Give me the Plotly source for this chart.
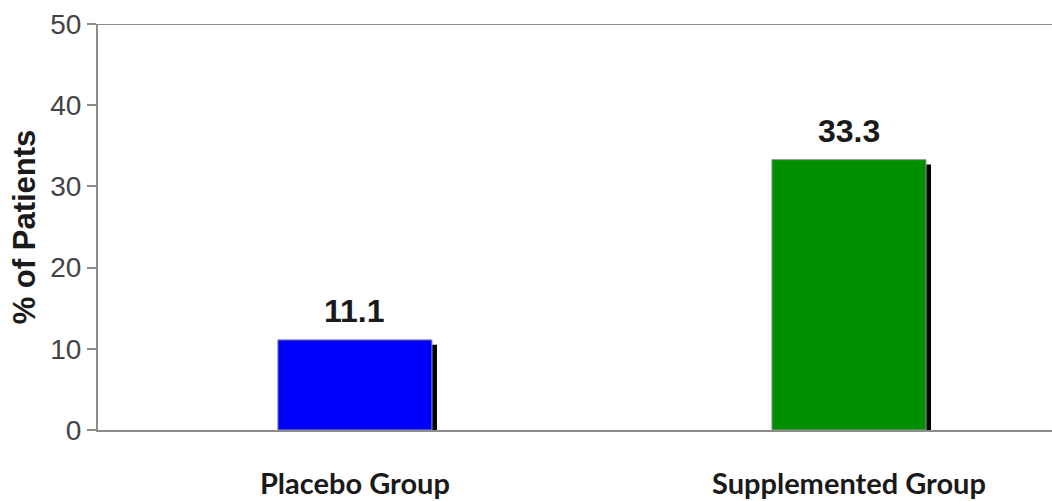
import plotly.graph_objects as go

categories = ["Placebo Group", "Supplemented Group"]
values = [11.1, 33.3]
bar_colors = ["#0000ff", "#008f00"]
y_ticks = [0, 10, 20, 30, 40, 50]

# layout geometry (pixels)
W, H = 1052, 501
ML, MR, MT, MB = 98, 0, 24, 71
x_range = [-0.52, 1.411]
y_range = [0, 50]
bar_w = 0.312
shadow_dx_px, shadow_dy_px = 5, 5

plot_w = W - ML - MR
plot_h = H - MT - MB
dx = shadow_dx_px * (x_range[1] - x_range[0]) / plot_w
dy = shadow_dy_px * (y_range[1] - y_range[0]) / plot_h

fig = go.Figure()
# shadow bars
fig.add_trace(go.Bar(
    x=categories, y=[v - dy for v in values],
    width=bar_w, offset=-bar_w / 2 + dx,
    marker=dict(color="#000000", line=dict(width=0)),
    hoverinfo="skip", showlegend=False,
))
# main bars
fig.add_trace(go.Bar(
    x=categories, y=values,
    width=bar_w, offset=-bar_w / 2,
    marker=dict(color=bar_colors, line=dict(color="#9a9a9a", width=1)),
    showlegend=False,
))

for c, v in zip(categories, values):
    fig.add_annotation(
        x=c, y=v, text=f"{v:.1f}", showarrow=False,
        yanchor="bottom", yshift=9,
        font=dict(family="Liberation Sans, Arial", size=32, color="#1a1a1a", weight="bold"),
    )

# top border line
fig.add_shape(type="line", xref="paper", yref="y", x0=0, x1=1, y0=y_range[1], y1=y_range[1],
              line=dict(color="#8c8c8c", width=2))

fig.update_layout(
    width=W, height=H,
    margin=dict(l=ML, r=MR, t=MT, b=MB),
    paper_bgcolor="white", plot_bgcolor="white",
    barmode="overlay",
    xaxis=dict(
        range=x_range, showgrid=False, zeroline=False,
        showline=True, linecolor="#8c8c8c", linewidth=2,
        ticks="", ticklabelstandoff=27,
        tickfont=dict(family="Lato", size=29, color="#1a1a1a", weight="bold"),
    ),
    yaxis=dict(
        range=y_range, tickvals=y_ticks, showgrid=False, zeroline=False,
        showline=True, linecolor="#8c8c8c", linewidth=2,
        ticks="outside", ticklen=9, tickcolor="#8c8c8c", tickwidth=2,
        tickfont=dict(family="Liberation Sans, Arial", size=28, color="#444444"),
        title=dict(text="% of Patients", standoff=5,
                   font=dict(family="Liberation Sans, Arial", size=31, color="#1a1a1a", weight="bold")),
    ),
)

fig.write_html("out.html")
